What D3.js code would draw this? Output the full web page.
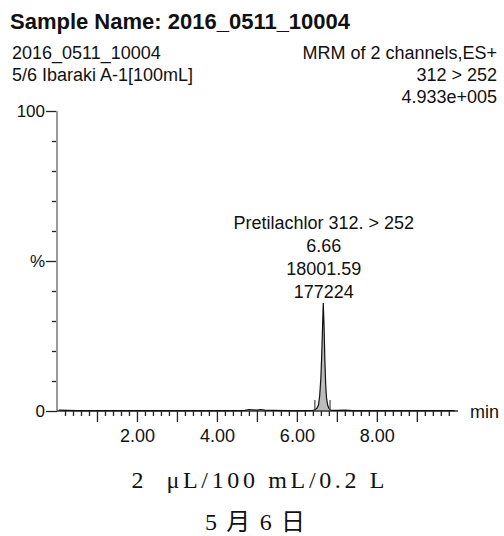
<!DOCTYPE html>
<html><head><meta charset="utf-8">
<script src="https://cdn.jsdelivr.net/npm/d3@7"></script>
<style>
html,body{margin:0;padding:0;background:#fff;}
svg{display:block;}
text{fill:#111;}
</style></head>
<body>
<svg id="c" width="504" height="536" font-family="Liberation Sans, Arial, sans-serif"></svg>
<script>
// ---- data ----
const titleText = "Sample Name: 2016_0511_10004";
const headerLeft = ["2016_0511_10004", "5/6 Ibaraki A-1[100mL]"];
const headerRight = ["MRM of 2 channels,ES+", "312 > 252", "4.933e+005"];
const peakLabel = ["Pretilachlor 312. > 252", "6.66", "18001.59", "177224"];
const peakRT = 6.66;
const integStart = 6.45, integEnd = 6.83;
const xLabelTicks = [2, 4, 6, 8];
const yLabelTicks = [0, 50, 100];
const yLabelText = ["0", "%", "100"];
const xUnit = "min";
const footer = ["2  \u03bcL/100 mL/0.2 L", "5 月 6 日"];
// chromatogram trace: retention time (min) and relative intensity (%)
const rt = [0.05,0.5,1.0,1.5,2.0,2.5,3.0,3.5,4.0,4.5,4.7,4.8,4.9,5.0,5.1,5.2,5.4,5.8,6.2,6.40,6.45,6.50,6.54,6.57,6.60,6.62,6.64,6.66,6.68,6.70,6.72,6.74,6.77,6.80,6.84,6.90,7.0,7.2,7.4,7.8,8.5,9.0,9.5,9.95];
const intensity = [0.3,0.1,0.1,0.1,0.1,0.1,0.1,0.1,0.1,0.1,0.2,0.5,0.4,0.3,0.5,0.3,0.2,0.1,0.1,0.2,0.4,0.9,2.0,5.0,11,18,27,36,28,17,9,4.5,2.0,0.9,0.3,0.2,0.2,0.3,0.1,0.1,0.1,0.1,0.1,0.1];

// ---- drawing ----
const svg = d3.select("#c");
const x = d3.scaleLinear().domain([0, 10.03]).range([57, 458]);
const y = d3.scaleLinear().domain([0, 100]).range([411, 111]);

// headers
svg.append("text").attr("x", 10).attr("y", 29).attr("font-size", 22).attr("font-weight", "bold").text(titleText);
headerLeft.forEach((t, i) => svg.append("text").attr("x", 12).attr("y", 59 + i * 22).attr("font-size", 18).text(t));
headerRight.forEach((t, i) => svg.append("text").attr("x", 497).attr("y", 59 + i * 22).attr("font-size", 18).attr("text-anchor", "end").text(t));

// trace data
const pts = rt.map((t, i) => ({t, v: intensity[i]}));

// shaded integrated area
const inPeak = pts.filter(d => d.t >= integStart && d.t <= integEnd);
svg.append("path").datum(inPeak)
  .attr("d", d3.area().x(d => x(d.t)).y0(y(0)).y1(d => y(d.v)))
  .attr("fill", "#bcbcbc");

// y axis
const yMinor = d3.axisLeft(y).tickValues(d3.range(10, 100, 10).filter(v => v !== 50)).tickSize(5).tickFormat("");
const gy1 = svg.append("g").attr("transform", `translate(${x(0)},0)`).call(yMinor);
const yMajor = d3.axisLeft(y).tickValues(yLabelTicks).tickSize(11).tickPadding(1)
  .tickFormat(v => yLabelText[yLabelTicks.indexOf(v)]);
const gy2 = svg.append("g").attr("transform", `translate(${x(0)},0)`).call(yMajor);
[gy1, gy2].forEach(g => {
  g.select(".domain").remove();
  g.selectAll(".tick line").attr("stroke", "#222").attr("stroke-width", 1.3);
});
gy2.selectAll(".tick text").attr("font-size", 17).attr("font-family", "Liberation Sans, Arial, sans-serif").attr("fill", "#111");
svg.append("line").attr("x1", x(0)).attr("x2", x(0)).attr("y1", y(100)).attr("y2", y(0))
  .attr("stroke", "#9a9a9a").attr("stroke-width", 2);

// x axis
const xMinor = d3.axisBottom(x).tickValues(d3.range(0.2, 10, 0.2).filter(v => Math.abs(v - Math.round(v)) > 1e-6)).tickSize(5).tickFormat("");
const xMajor = d3.axisBottom(x).tickValues(d3.range(1, 10, 1)).tickSize(11).tickFormat("");
const xLab = d3.axisBottom(x).tickValues(xLabelTicks).tickSize(0).tickPadding(18).tickFormat(d3.format(".2f"));
[xMinor, xMajor, xLab].forEach(a => {
  const g = svg.append("g").attr("transform", `translate(0,${y(0)})`).call(a);
  g.select(".domain").remove();
  g.selectAll(".tick line").attr("stroke", "#222").attr("stroke-width", 1.3);
  g.selectAll(".tick text").attr("font-size", 18).attr("font-family", "Liberation Sans, Arial, sans-serif").attr("fill", "#111");
});
svg.append("line").attr("x1", x(0)).attr("x2", 458).attr("y1", y(0)).attr("y2", y(0))
  .attr("stroke", "#333").attr("stroke-width", 1.5);
svg.append("text").attr("x", 470).attr("y", 418).attr("font-size", 18).text(xUnit);

// trace line
svg.append("path").datum(pts)
  .attr("d", d3.line().x(d => x(d.t)).y(d => y(d.v)))
  .attr("fill", "none").attr("stroke", "#111").attr("stroke-width", 1.2);

// integration markers
[integStart, integEnd].forEach(t => svg.append("line")
  .attr("x1", x(t)).attr("x2", x(t)).attr("y1", y(0) - 11).attr("y2", y(0))
  .attr("stroke", "#444").attr("stroke-width", 1.2));

// peak annotation
peakLabel.forEach((t, i) => svg.append("text").attr("x", x(peakRT) + 0.5).attr("y", 229 + i * 23)
  .attr("font-size", 18).attr("text-anchor", "middle").text(t));

// footer
svg.append("text").attr("x", 258).attr("y", 488).attr("font-size", 24)
  .style("font-family", "'Liberation Serif', 'DejaVu Serif', serif")
  .attr("text-anchor", "middle").attr("textLength", 253).attr("lengthAdjust", "spacing")
  .style("white-space", "pre").text(footer[0]);
svg.append("text").attr("x", 255).attr("y", 530).attr("font-size", 24)
  .style("font-family", "'Liberation Serif', 'Noto Sans CJK JP', serif")
  .attr("text-anchor", "middle").attr("textLength", 100).attr("lengthAdjust", "spacing")
  .style("white-space", "pre").text(footer[1]);
</script>
</body></html>
